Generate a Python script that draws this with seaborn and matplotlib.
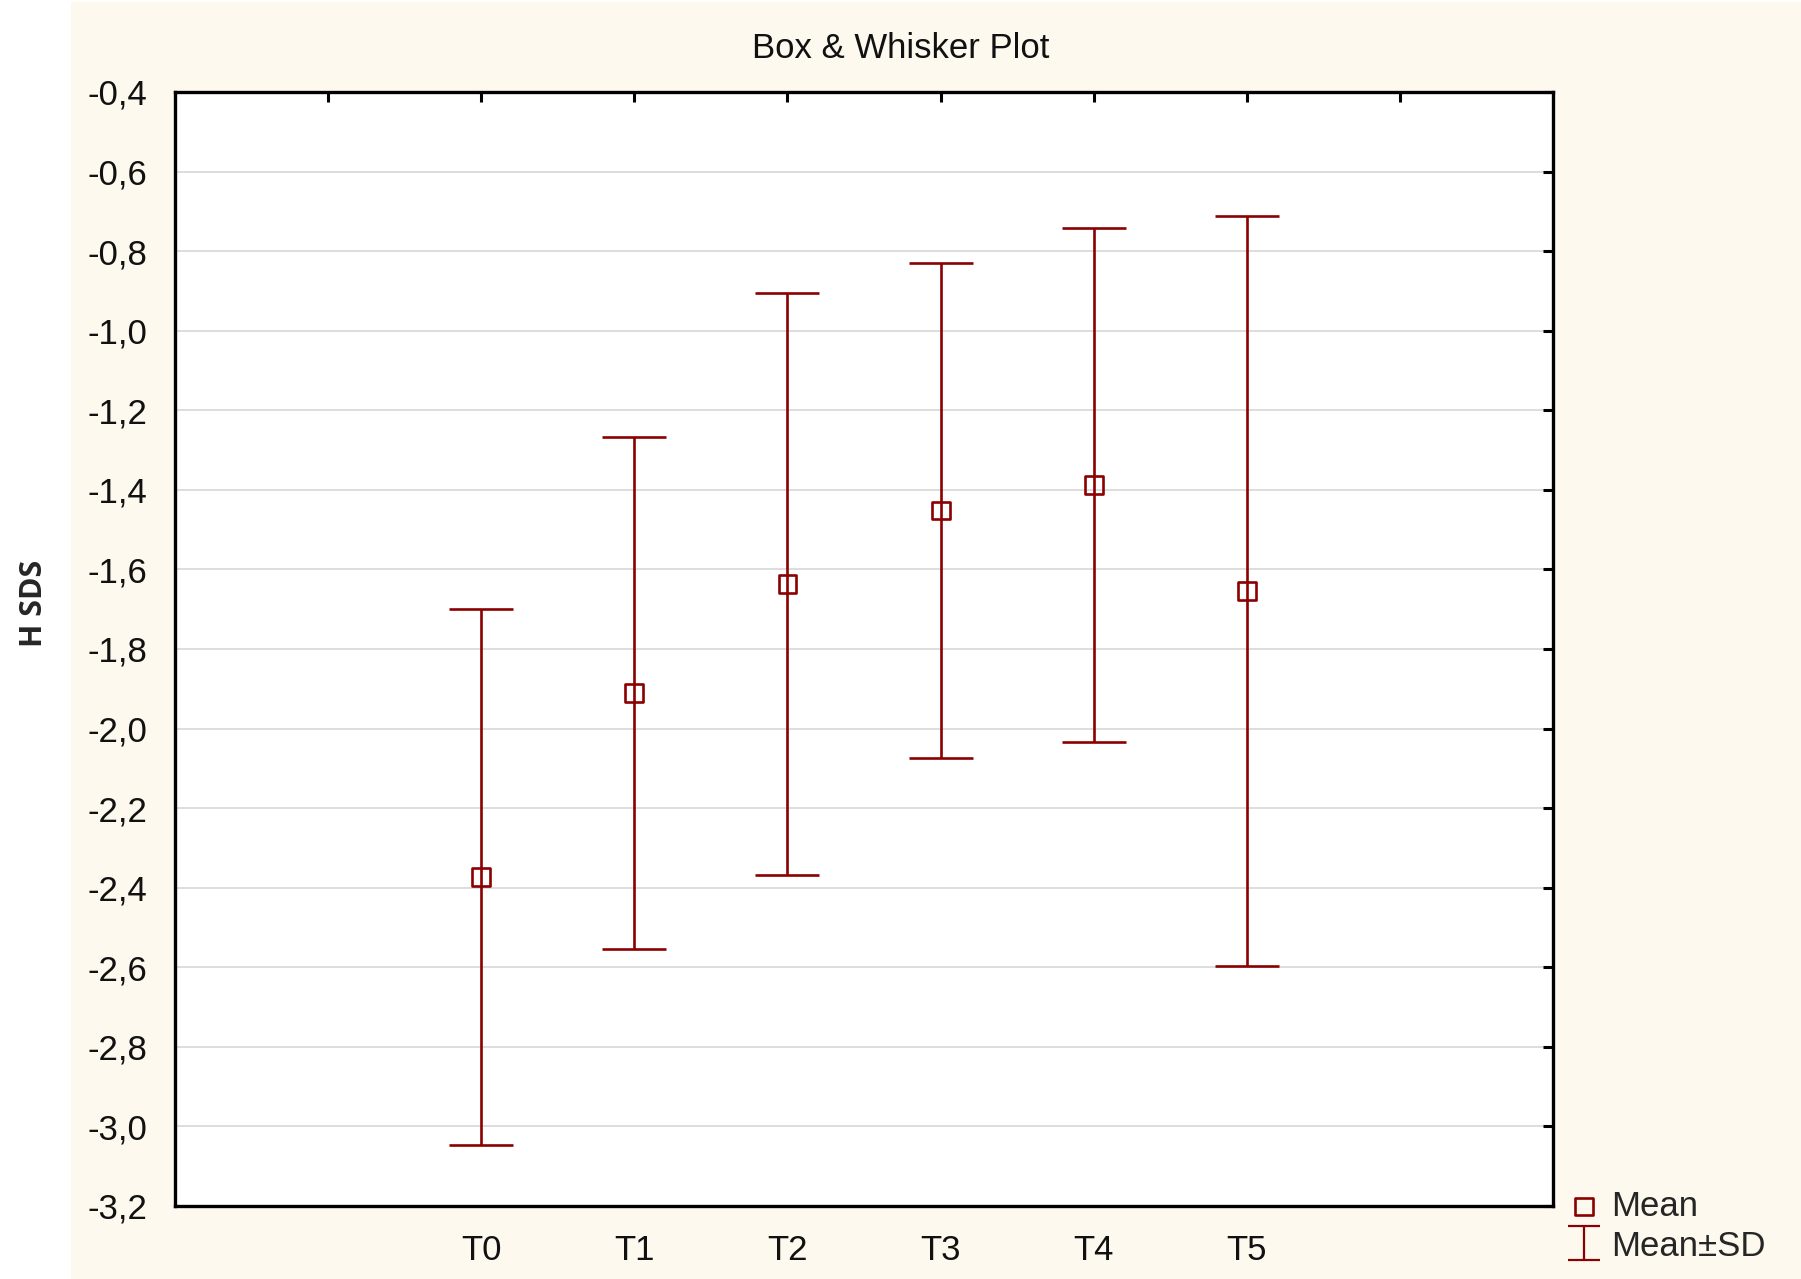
import numpy as np
import pandas as pd
import matplotlib as mpl
mpl.use('Agg')
import matplotlib.pyplot as plt
from matplotlib.patches import Rectangle
from matplotlib.path import Path
from matplotlib.lines import Line2D
import seaborn as sns

# 数据
times = ['T0', 'T1', 'T2', 'T3', 'T4', 'T5']
means = [-2.373, -1.910, -1.637, -1.452, -1.387, -1.655]
sds = [0.674, 0.644, 0.732, 0.622, 0.646, 0.943]
y_ticks = [-3.2, -3.0, -2.8, -2.6, -2.4, -2.2, -2.0, -1.8, -1.6, -1.4,
           -1.2, -1.0, -0.8, -0.6, -0.4]

df = pd.DataFrame({'time': times, 'mean': means, 'sd': sds})

sns.set_theme(style='whitegrid')
plt.rcParams['font.family'] = ['Liberation Sans', 'DejaVu Sans']
red = '#8b0000'
fs = 25

fig = plt.figure(figsize=(18.01, 12.79), dpi=100, facecolor='white')
# 奶油色背景
fig.patches.append(Rectangle((0.0394, 0), 1 - 0.0394, 0.9985, transform=fig.transFigure,
                             facecolor='#fdf9ee', edgecolor='none', zorder=-10))
ax = fig.add_axes([0.0972, 0.0571, 0.8623 - 0.0972, 0.8710])
ax.set_facecolor('white')

ax.errorbar(df['time'], df['mean'], yerr=df['sd'], fmt='none', ecolor=red,
            elinewidth=1.9, capsize=22.7, capthick=1.9, zorder=3)
sns.scatterplot(data=df, x='time', y='mean', marker='s', s=165, facecolor='none',
                edgecolor=red, linewidth=1.9, ax=ax, label='Mean', zorder=4)

ax.set_xlim(-2, 7)
ax.set_xticks(range(-1, 7))
ax.set_xticklabels([''] + times + [''])
ax.set_ylim(-3.2, -0.4)
ax.set_yticks(y_ticks)
ax.set_yticklabels([f'{v:.1f}'.replace('.', ',') for v in y_ticks])

ax.grid(axis='x', visible=False)
ax.grid(axis='y', color='#dadada', linewidth=1.3)
for sp in ax.spines.values():
    sp.set_color('black')
    sp.set_linewidth(2.4)
ax.tick_params(axis='both', direction='in', length=7.5, width=2.2, color='black',
               top=True, right=True, labelsize=fs, labelcolor='#111111')
ax.tick_params(axis='y', pad=20)
ax.tick_params(axis='x', pad=20)

ax.set_xlabel('')
ax.set_ylabel('')
fig.text(0.5, 0.962, 'Box & Whisker Plot', ha='center', va='center', fontsize=fs,
         color='#111111')
fig.text(0.019, 0.528, 'H SDS', ha='center', va='center', rotation=90, fontsize=22,
         fontweight='bold', family=['Open Sans', 'DejaVu Sans'])

# 图例: "I" 形的 Mean±SD 符号
ibar = Path([(-0.95, 1), (0.95, 1), (0, 1), (0, -1), (-0.95, -1), (0.95, -1)],
            [Path.MOVETO, Path.LINETO, Path.MOVETO, Path.LINETO, Path.MOVETO, Path.LINETO])
h, l = ax.get_legend_handles_labels()
sd_handle = Line2D([], [], linestyle='none', marker=ibar, markersize=24,
                   markeredgecolor=red, markerfacecolor='none', markeredgewidth=1.6)
ax.legend([h[l.index('Mean')], sd_handle], ['Mean', 'Mean±SD'], loc='upper left',
          bbox_to_anchor=(0.862, 0.0807), bbox_transform=fig.transFigure,
          frameon=False, fontsize=fs, handlelength=1.0, handletextpad=0.3,
          labelspacing=0.2, borderaxespad=0)

fig.savefig('out.png', dpi=100, facecolor=fig.get_facecolor())
